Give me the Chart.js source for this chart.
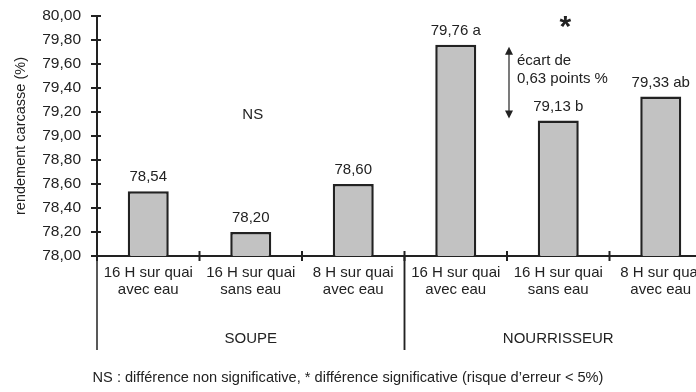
<!DOCTYPE html>
<html>
<head>
<meta charset="utf-8">
<script src="https://cdn.jsdelivr.net/npm/chart.js@4"></script>
<style>
  html, body { margin: 0; padding: 0; overflow: hidden; background: #fff; }
  #wrap { width: 720px; height: 392px; }
</style>
</head>
<body>
<div id="wrap"><canvas id="chart"></canvas></div>
<script>
// data
const categories = [
  ["16 H sur quai", "avec eau"],
  ["16 H sur quai", "sans eau"],
  ["8 H sur quai", "avec eau"],
  ["16 H sur quai", "avec eau"],
  ["16 H sur quai", "sans eau"],
  ["8 H sur quai", "avec eau"]
];
const rendement = [78.54, 78.20, 78.60, 79.76, 79.13, 79.33];
const letters = ["", "", "", "a", "b", "ab"];
const groups = ["SOUPE", "NOURRISSEUR"];
const groupSizes = [3, 3];
const yTicks = { min: 78, max: 80, step: 0.2 };
const footnote = "NS : différence non significative, * différence significative (risque d’erreur < 5%)";

const FONT = "'Liberation Sans', Arial, sans-serif";
const INK = "#222";

function fr(v) {
  return v.toFixed(2).replace(".", ",");
}

const annotate = {
  id: "annotate",
  afterDraw(chart) {
    const { ctx, chartArea } = chart;
    const x = chart.scales.x, y = chart.scales.y;
    const half = (x.getPixelForValue(1) - x.getPixelForValue(0)) / 2;
    ctx.save();
    ctx.strokeStyle = INK;
    ctx.fillStyle = INK;
    ctx.lineWidth = 2;

    // y tick marks crossing the axis
    y.ticks.forEach(t => {
      const py = Math.round(y.getPixelForValue(t.value));
      ctx.beginPath();
      ctx.moveTo(chartArea.left - 6, py);
      ctx.lineTo(chartArea.left + 4, py);
      ctx.stroke();
    });

    // category boundary marks
    const bounds = [];
    for (let i = 0; i <= categories.length; i++) {
      bounds.push(x.getPixelForValue(0) - half + i * 2 * half);
    }
    bounds.forEach(bx => {
      ctx.beginPath();
      ctx.moveTo(bx, chartArea.bottom - 5);
      ctx.lineTo(bx, chartArea.bottom + 5);
      ctx.stroke();
    });

    // group separators and names
    ctx.lineWidth = 1.5;
    let start = 0;
    ctx.font = "15px " + FONT;
    ctx.textAlign = "center";
    ctx.textBaseline = "middle";
    groups.forEach((g, gi) => {
      const end = start + groupSizes[gi];
      [bounds[start], bounds[end]].forEach(bx => {
        ctx.beginPath();
        ctx.moveTo(bx, chartArea.bottom);
        ctx.lineTo(bx, 350);
        ctx.stroke();
      });
      ctx.fillText(g, (bounds[start] + bounds[end]) / 2, 339);
      start = end;
    });

    // values above bars
    const meta = chart.getDatasetMeta(0);
    meta.data.forEach((bar, i) => {
      const txt = fr(rendement[i]) + (letters[i] ? " " + letters[i] : "");
      ctx.fillText(txt, bar.x, bar.y - 14);
    });

    // footnote
    ctx.font = "14.6px " + FONT;
    ctx.fillText(footnote, 348, 378);

    // NS and significance star
    ctx.font = "15px " + FONT;
    ctx.fillText("NS", x.getPixelForValue(1) + 2, y.getPixelForValue(79.18));
    ctx.font = "bold 30px " + FONT;
    ctx.fillText("*", x.getPixelForValue(4) + 7, y.getPixelForValue(79.9));

    // double arrow between bars 4 and 5
    const ax = (x.getPixelForValue(3) + x.getPixelForValue(4)) / 2 + 2;
    const top = y.getPixelForValue(rendement[3]) + 2;
    const bot = y.getPixelForValue(rendement[4]) - 2;
    ctx.lineWidth = 1.2;
    ctx.beginPath();
    ctx.moveTo(ax, top + 6);
    ctx.lineTo(ax, bot - 6);
    ctx.stroke();
    ctx.beginPath();
    ctx.moveTo(ax, top); ctx.lineTo(ax - 4, top + 8); ctx.lineTo(ax + 4, top + 8); ctx.closePath();
    ctx.moveTo(ax, bot); ctx.lineTo(ax - 4, bot - 8); ctx.lineTo(ax + 4, bot - 8); ctx.closePath();
    ctx.fill();

    ctx.font = "15px " + FONT;
    ctx.textAlign = "left";
    ctx.fillText("écart de", ax + 8, y.getPixelForValue(79.63));
    ctx.fillText("0,63 points %", ax + 8, y.getPixelForValue(79.475));
    ctx.restore();
  }
};

new Chart(document.getElementById("chart"), {
  type: "bar",
  data: {
    labels: categories,
    datasets: [{
      data: rendement,
      backgroundColor: "#c2c2c2",
      borderColor: INK,
      borderWidth: 2.5,
      borderSkipped: "bottom",
      barPercentage: 0.4,
      categoryPercentage: 1
    }]
  },
  options: {
    responsive: true,
    maintainAspectRatio: false,
    animation: false,
    layout: { padding: { top: 16, right: 8, left: 0, bottom: 0 } },
    plugins: { legend: { display: false }, tooltip: { enabled: false } },
    scales: {
      x: {
        afterFit(s) { s.height = 136; },
        grid: { display: false, drawTicks: false },
        border: { color: INK, width: 2 },
        ticks: { color: INK, padding: 8, font: { family: FONT, size: 15, lineHeight: 1.15 }, maxRotation: 0, autoSkip: false }
      },
      y: {
        min: yTicks.min,
        max: yTicks.max,
        afterFit(s) {
          s.width = 97;
          s.paddingTop = 8;
          s.paddingBottom = 0;
        },
        grid: { display: false, drawTicks: false },
        border: { color: INK, width: 2 },
        ticks: {
          stepSize: yTicks.step,
          color: INK,
          padding: 16,
          font: { family: FONT, size: 15.5 },
          callback: v => fr(v)
        },
        title: {
          display: true,
          text: "rendement carcasse (%)",
          color: INK,
          font: { family: FONT, size: 14.5 },
          padding: { top: 12 }
        }
      }
    }
  },
  plugins: [annotate]
});
</script>
</body>
</html>
